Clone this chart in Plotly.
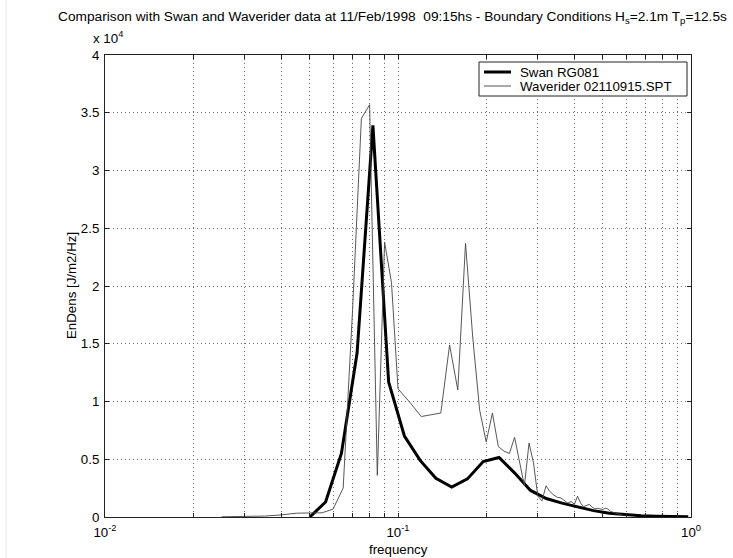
import plotly.graph_objects as go

# ---- data (energy density in units of 10^4 J/m2/Hz) ----
swan_freq = [0.0500, 0.0566, 0.0641, 0.0725, 0.0821, 0.0929, 0.1052, 0.1190,
             0.1347, 0.1525, 0.1726, 0.1954, 0.2212, 0.2503, 0.2833, 0.3207,
             0.3630, 0.4109, 0.4651, 0.5265, 0.5960, 0.6746, 0.7636, 0.8643,
             0.9784]
swan_energy = [0.000, 0.130, 0.550, 1.420, 3.390, 1.170, 0.700, 0.490,
               0.335, 0.260, 0.330, 0.480, 0.515, 0.380, 0.230, 0.160,
               0.120, 0.085, 0.055, 0.033, 0.019, 0.011, 0.007, 0.004,
               0.002]

wave_freq = [0.025, 0.030, 0.035, 0.040, 0.045, 0.050, 0.055, 0.060,
             0.065, 0.070, 0.075, 0.080, 0.085, 0.090, 0.095, 0.100,
             0.11, 0.12, 0.13, 0.14, 0.15, 0.16, 0.17, 0.18, 0.19, 0.20,
             0.21, 0.22, 0.23, 0.24, 0.25, 0.26, 0.27, 0.28, 0.29, 0.30,
             0.31, 0.32, 0.33, 0.34, 0.35, 0.36, 0.37, 0.38, 0.39, 0.40,
             0.41, 0.42, 0.43, 0.44, 0.45, 0.46, 0.47, 0.48, 0.49, 0.50,
             0.51, 0.52, 0.53, 0.54, 0.55, 0.56, 0.57, 0.58]
wave_energy = [0.002, 0.004, 0.008, 0.018, 0.033, 0.035, 0.036, 0.068,
               0.250, 1.800, 3.450, 3.570, 0.360, 2.380, 2.030, 1.110,
               0.990, 0.870, 0.885, 0.900, 1.490, 1.100, 2.370, 1.550, 0.925, 0.650,
               0.900, 0.610, 0.570, 0.550, 0.690, 0.470, 0.270, 0.640, 0.470, 0.180,
               0.140, 0.270, 0.220, 0.190, 0.170, 0.165, 0.145, 0.120, 0.135, 0.110,
               0.180, 0.120, 0.090, 0.100, 0.110, 0.085, 0.070, 0.075, 0.070, 0.065,
               0.075, 0.070, 0.050, 0.040, 0.035, 0.030, 0.025, 0.020]

series_names = ["Swan RG081", "Waverider 02110915.SPT"]

x_tick_vals = [0.01, 0.02, 0.03, 0.04, 0.05, 0.06, 0.07, 0.08, 0.09,
               0.1, 0.2, 0.3, 0.4, 0.5, 0.6, 0.7, 0.8, 0.9, 1.0]
x_tick_text = ["10<sup>-2</sup>", "", "", "", "", "", "", "", "",
               "10<sup>-1</sup>", "", "", "", "", "", "", "", "",
               "10<sup>0</sup>"]
y_tick_vals = [0, 0.5, 1, 1.5, 2, 2.5, 3, 3.5, 4]
y_tick_text = ["0", "0.5", "1", "1.5", "2", "2.5", "3", "3.5", "4"]

FONT = "Liberation Sans, Arial, sans-serif"
FS = 13.3

# plot-area geometry (pixels) -> paper coordinates helpers
L, R, T, B = 105, 691, 55, 517
W, H = R - L, B - T


def px(x):
    return (x - L) / W


def py(y):
    return (B - y) / H


line_styles = [dict(color="black", width=3), dict(color="#444444", width=0.9)]

fig = go.Figure()
fig.add_trace(go.Scatter(x=swan_freq, y=swan_energy, mode="lines",
                         name=series_names[0], line=line_styles[0],
                         showlegend=False))
fig.add_trace(go.Scatter(x=wave_freq, y=wave_energy, mode="lines",
                         name=series_names[1], line=line_styles[1],
                         showlegend=False))

axis_common = dict(showline=True, linecolor="#222222", linewidth=1,
                   mirror="ticks", ticks="inside", ticklen=4,
                   tickcolor="#222222", showgrid=True, gridcolor="#6e6e6e",
                   griddash="1px,3px", gridwidth=1, zeroline=False,
                   tickfont=dict(family=FONT, size=FS, color="black"))

fig.update_xaxes(type="log", range=[-2, 0], tickmode="array",
                 tickvals=x_tick_vals, ticktext=x_tick_text,
                 ticklabelstandoff=3, **axis_common)
fig.update_yaxes(range=[0, 4], tickmode="array",
                 tickvals=y_tick_vals, ticktext=y_tick_text,
                 ticklabelstandoff=2, **axis_common)

# manual legend (box, line samples, labels)
leg_box = dict(x0=479, x1=687, y0=62, y1=96)
leg_rows = [72, 86]
shapes = [
    dict(type="line", xref="paper", yref="paper",
         x0=px(6), x1=px(6), y0=py(558), y1=py(0),
         line=dict(color="#e4e4e4", width=1)),
    dict(type="rect", xref="paper", yref="paper",
         x0=px(leg_box["x0"]), x1=px(leg_box["x1"]),
         y0=py(leg_box["y1"]), y1=py(leg_box["y0"]),
         line=dict(color="#222222", width=1), fillcolor="white", layer="above"),
]
annotations = []
for row_y, name, style in zip(leg_rows, series_names, line_styles):
    shapes.append(dict(type="line", xref="paper", yref="paper",
                       x0=px(484), x1=px(511), y0=py(row_y), y1=py(row_y),
                       line=style, layer="above"))
    annotations.append(dict(text=name, xref="paper", yref="paper",
                            x=px(518), y=py(row_y), xanchor="left",
                            yanchor="middle", showarrow=False,
                            font=dict(family=FONT, size=FS, color="black")))

annotations += [
    dict(text="x 10<sup>4</sup>", xref="paper", yref="paper",
         x=px(91), y=py(38), xanchor="left",
         yanchor="middle", showarrow=False,
         font=dict(family=FONT, size=FS, color="black")),
    dict(text="frequency", xref="paper", yref="paper",
         x=0.5, y=py(549), xanchor="center",
         yanchor="middle", showarrow=False,
         font=dict(family=FONT, size=FS, color="black")),
    dict(text="EnDens [J/m2/Hz]", xref="paper", yref="paper",
         x=px(71), y=0.5, xanchor="center",
         yanchor="middle", textangle=-90, showarrow=False,
         font=dict(family=FONT, size=FS, color="black")),
]

fig.update_layout(
    width=733, height=558,
    margin=dict(l=L, r=733 - R, t=T, b=558 - B, pad=0),
    paper_bgcolor="white", plot_bgcolor="white",
    font=dict(family=FONT, size=FS, color="black"),
    title=dict(text="Comparison with Swan and Waverider data at 11/Feb/1998\u00a0\u00a009:15hs - "
                    "Boundary Conditions H<sub>s</sub>=2.1m T<sub>p</sub>=12.5s",
               xref="container", x=392.5 / 733, xanchor="center",
               yref="container", y=1 - 16 / 558, yanchor="middle",
               font=dict(family=FONT, size=13.7, color="black")),
    showlegend=False,
    annotations=annotations,
    shapes=shapes,
)

fig.write_html("out.html")
